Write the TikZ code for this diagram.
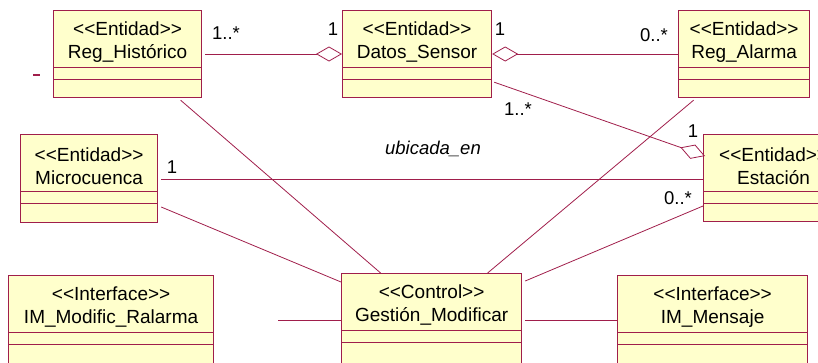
\documentclass[tikz,border=0pt]{standalone}
\usepackage{fontspec}
\setmainfont{Liberation Sans}[Ligatures=TeXOff]
\usetikzlibrary{calc,arrows.meta}
\definecolor{umlred}{HTML}{A01E4B}
\definecolor{umlfill}{HTML}{FFFFCC}
\tikzset{
  cls/.style={draw=umlred, fill=umlfill, line width=1.2pt, rectangle, inner sep=0pt, anchor=north west},
  sep/.style={draw=umlred, line width=1pt},
  conn/.style={draw=umlred, line width=0.8pt},
  agg/.style={conn, {Diamond[open,length=26pt,width=15pt,line width=0.8pt]}-},
  ttl/.style={align=center, font=\fontsize{19}{23}\selectfont, inner sep=0pt},
  mult/.style={font=\fontsize{18.5}{21}\selectfont, inner sep=0pt},
}
% \umlcls{name}{x}{y}{w}{h}{text}
\newcommand{\umlcls}[6]{%
  \node[cls, minimum width=#4pt, minimum height=#5pt] (#1) at (#2,#3) {};
  \draw[sep] ($(#1.north west)+(0,57)$) -- ($(#1.north east)+(0,57)$);
  \draw[sep] ($(#1.north west)+(0,69)$) -- ($(#1.north east)+(0,69)$);
  \node[ttl] (#1T) at ($(#1.north)+(0,32)$) {#6};
}
\begin{document}
\begin{tikzpicture}[x=1pt,y=-1pt]
\useasboundingbox (0,0) rectangle (818,362);
\clip (0,0) rectangle (818,362);
\umlcls{hist}{53}{10}{148}{87}{<<Entidad>>\\Reg\_Histórico}
\umlcls{datos}{342}{10}{149}{87}{<<Entidad>>\\Datos\_Sensor}
\umlcls{alarm}{678}{10}{131}{87}{<<Entidad>>\\Reg\_Alarma}
\umlcls{micro}{20}{134}{137}{88}{<<Entidad>>\\Microcuenca}
\umlcls{est}{703}{134}{140}{87}{<<Entidad>>\\Estación}
\umlcls{modif}{8}{275}{205}{90}{<<Interface>>\\IM\_Modific\_Ralarma}
\umlcls{gest}{341}{273}{180}{90}{<<Control>>\\Gestión\_Modificar}
\umlcls{mens}{617}{275}{190}{90}{<<Interface>>\\IM\_Mensaje}

% aggregations
\draw[agg] (datos.west |- 0,54) -- ($(hist.east |- 0,54)+(3,0)$);
\draw[agg] (datos.east |- 0,54) -- (alarm.west |- 0,54);
\draw[agg] ($(est.north west)+(2,22)$) -- ($(datos.south east)+(2,-16)$);

% associations
\draw[conn] ($(micro.east |- 0,179)+(3,0)$) -- (est.west |- 0,179);
\draw[conn] ($(hist.south)+(53,2)$) -- ($(gest.north)+(-51,0)$);
\draw[conn] ($(alarm.south)+(-50.5,2)$) -- ($(gest.north)+(56,0)$);
\draw[conn] ($(micro.north east)+(3,73)$) -- ($(gest.north west)+(0,9)$);
\draw[conn] ($(est.north west)+(0,72)$) -- ($(gest.north east)+(3,8)$);
\draw[conn] ($(gest.north east)+(3,47)$) -- ($(mens.north west)+(0,45)$);
\coordinate (modfree) at (278,320);
\draw[conn] (modfree) -- (gest.west |- modfree);
\coordinate (dashA) at (33,75);
\coordinate (dashB) at (40,75);
\draw[conn, line width=1.2pt] (dashA) -- (dashB);

% multiplicities and labels
\node[mult] (m1) at (226,33) {1..*};
\node[mult] (m2) at (333,29) {1};
\node[mult] (m3) at (500,29) {1};
\node[mult] (m4) at (654,35) {0..*};
\node[mult] (m5) at (518,109) {1..*};
\node[mult] (m6) at (693,131) {1};
\node[mult] (m7) at (172,167) {1};
\node[mult] (m8) at (678,198) {0..*};
\node[mult, font=\fontsize{18.5}{21}\selectfont\itshape] (assoc) at (433,149) {ubicada\_en};
\end{tikzpicture}
\end{document}
